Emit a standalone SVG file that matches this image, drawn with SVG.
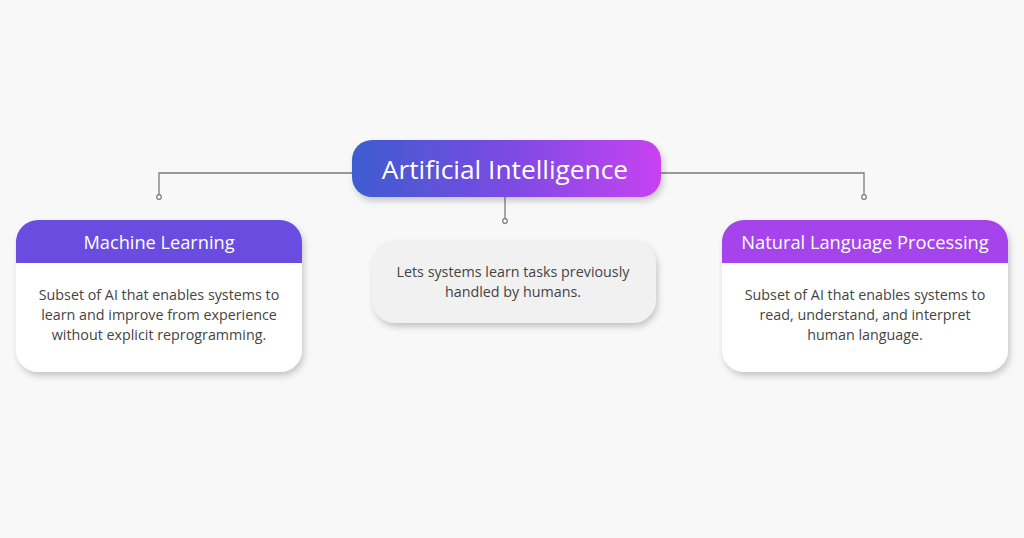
<svg xmlns="http://www.w3.org/2000/svg" width="1024" height="538" viewBox="0 0 1024 538">
<defs>
<linearGradient id="aiGrad" x1="0" y1="0" x2="1" y2="0">
<stop offset="0" stop-color="#3d5ccf"/>
<stop offset="0.5" stop-color="#7a4be3"/>
<stop offset="1" stop-color="#c842f1"/>
</linearGradient>
<filter id="shadow" x="-10%" y="-10%" width="125%" height="135%">
<feDropShadow dx="2" dy="4" stdDeviation="3" flood-color="#000" flood-opacity="0.2"/>
</filter>
<clipPath id="mlClip"><rect x="16" y="220" width="286" height="152" rx="22"/></clipPath>
<clipPath id="nlpClip"><rect x="722" y="220" width="286" height="152" rx="22"/></clipPath>
</defs>
<style>
.conn{fill:none;stroke:#7a7a7a;stroke-width:1.3}
.dot{fill:#fff;stroke:#7a7a7a;stroke-width:1.2}
.title{font-family:"Open Sans","Liberation Sans",sans-serif;fill:#fff;text-anchor:middle;font-weight:500}
.body{font-family:"Open Sans","Liberation Sans",sans-serif;font-size:14.3px;fill:#444;text-anchor:middle}
</style>
<rect width="1024" height="538" fill="#f8f8f8"/>
<g id="connectors">
<path class="conn" d="M352 173 H159 V195"/>
<path class="conn" d="M661 173 H864 V195"/>
<path class="conn" d="M505 197 V219"/>
<circle class="dot" cx="159" cy="197" r="2.3"/>
<circle class="dot" cx="864" cy="197" r="2.3"/>
<circle class="dot" cx="505" cy="221" r="2.3"/>
</g>
<g id="node-ai">
<rect x="352" y="140" width="309" height="57" rx="20" fill="url(#aiGrad)" filter="url(#shadow)"/>
<text class="title" x="505" y="179" font-size="26.3">Artificial Intelligence</text>
</g>
<g id="node-ml">
<rect x="16" y="220" width="286" height="152" rx="22" fill="#fff" filter="url(#shadow)"/>
<rect x="16" y="220" width="286" height="43" fill="#6a4ce0" clip-path="url(#mlClip)"/>
<text class="title" x="159" y="249" font-size="18.2">Machine Learning</text>
<text class="body" x="159" y="300">Subset of AI that enables systems to</text>
<text class="body" x="159" y="320">learn and improve from experience</text>
<text class="body" x="159" y="340">without explicit reprogramming.</text>
</g>
<g id="node-center">
<rect x="372" y="240" width="284" height="83" rx="24" fill="#f1f1f1" filter="url(#shadow)"/>
<text class="body" x="513" y="277">Lets systems learn tasks previously</text>
<text class="body" x="513" y="297">handled by humans.</text>
</g>
<g id="node-nlp">
<rect x="722" y="220" width="286" height="152" rx="22" fill="#fff" filter="url(#shadow)"/>
<rect x="722" y="220" width="286" height="43" fill="#a544ea" clip-path="url(#nlpClip)"/>
<text class="title" x="865" y="249" font-size="18.3">Natural Language Processing</text>
<text class="body" x="865" y="300">Subset of AI that enables systems to</text>
<text class="body" x="865" y="320">read, understand, and interpret</text>
<text class="body" x="865" y="340">human language.</text>
</g>
</svg>
